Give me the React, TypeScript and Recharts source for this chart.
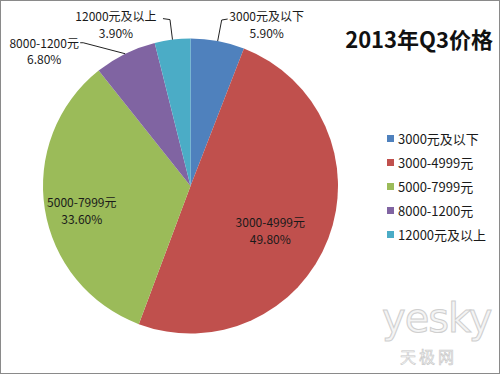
import React from 'react';
import { PieChart, Pie, Cell } from 'recharts';

const categories = ['3000元及以下', '3000-4999元', '5000-7999元', '8000-1200元', '12000元及以上'];
const shares = [5.9, 49.8, 33.6, 6.8, 3.9];
const colors = ['#4F81BD', '#C0504D', '#9BBB59', '#8064A2', '#4BACC6'];
const title = '2013年Q3价格';

const data = categories.map((name, i) => ({ name, value: shares[i] }));

const FONT = "'Microsoft YaHei', 'Noto Sans CJK SC', sans-serif";
const RAD = Math.PI / 180;

// label placement relative to the slice's outer edge point at its mid angle
const labelLayout = [
  { dx: 49, dy: -17, line: [[4, -21], [10, -22]] },
  { dx: -58, dy: -8.5, line: null },
  { dx: 37, dy: 1, line: null },
  { dx: -81, dy: -3, line: [[-42, -11], [-45, -11]] },
  { dx: -56.5, dy: -15.6, line: [[-2.5, -20], [-9.5, -21]] },
];

const renderLabel = (props: any) => {
  const { cx, cy, midAngle, outerRadius, index, name, value } = props;
  const ex = cx + outerRadius * Math.cos(-midAngle * RAD);
  const ey = cy + outerRadius * Math.sin(-midAngle * RAD);
  const lay = labelLayout[index];
  const tx = ex + lay.dx;
  const ty = ey + lay.dy;
  return (
    <g key={`lbl-${index}`}>
      {lay.line && (
        <polyline
          points={`${ex},${ey} ${ex + lay.line[0][0]},${ey + lay.line[0][1]} ${ex + lay.line[1][0]},${ey + lay.line[1][1]}`}
          fill="none"
          stroke="#222"
          strokeWidth={1}
        />
      )}
      <text x={tx} y={ty - 8.2} textAnchor="middle" dominantBaseline="central" fontSize={12} fontFamily={FONT} fill="#1a1a1a">
        {name}
      </text>
      <text x={tx} y={ty + 8.2} textAnchor="middle" dominantBaseline="central" fontSize={12} fontFamily={FONT} fill="#1a1a1a">
        {`${Number(value).toFixed(2)}%`}
      </text>
    </g>
  );
};

export default function App() {
  return (
    <div
      style={{
        position: 'absolute',
        left: 0,
        top: 0,
        width: 500,
        height: 374,
        background: '#fff',
        overflow: 'hidden',
      }}
    >
      <div style={{ position: 'absolute', left: 0, top: 0 }}>
        <PieChart width={500} height={374} margin={{ top: 0, right: 0, bottom: 0, left: 0 }}>
          <Pie
            data={data}
            dataKey="value"
            nameKey="name"
            cx={190.5}
            cy={186}
            outerRadius={147.5}
            startAngle={90}
            endAngle={-270}
            stroke="none"
            label={renderLabel}
            labelLine={false}
            isAnimationActive={false}
          >
            {data.map((d, i) => (
              <Cell key={d.name} fill={colors[i]} />
            ))}
          </Pie>
        </PieChart>
      </div>
      <div
        style={{
          position: 'absolute',
          left: 387,
          top: 126,
          fontFamily: FONT,
          fontSize: 13,
          color: '#1a1a1a',
        }}
      >
        {categories.map((c, i) => (
          <div key={c} style={{ display: 'flex', alignItems: 'center', height: 24.2, whiteSpace: 'nowrap' }}>
            <span style={{ display: 'inline-block', width: 7, height: 7, background: colors[i], marginRight: 4 }} />
            <span>{c}</span>
          </div>
        ))}
      </div>
      <div
        style={{
          position: 'absolute',
          right: 7,
          top: 26,
          fontFamily: FONT,
          fontWeight: 'bold',
          fontSize: 22,
          lineHeight: '24px',
          color: '#111',
          whiteSpace: 'nowrap',
        }}
      >
        {title}
      </div>
      <div
        style={{
          position: 'absolute',
          left: 382,
          top: 296,
          fontFamily: "'DejaVu Sans', sans-serif",
          fontSize: 40,
          lineHeight: '44px',
          color: '#f4f4f4',
          WebkitTextStroke: '1px #cfcfcf',
          letterSpacing: -1,
          whiteSpace: 'nowrap',
        }}
      >
        yesky
      </div>
      <div
        style={{
          position: 'absolute',
          left: 400,
          top: 347,
          fontFamily: FONT,
          fontSize: 16,
          lineHeight: '18px',
          color: '#f4f4f4',
          WebkitTextStroke: '0.6px #c8c8c8',
          letterSpacing: 3,
          whiteSpace: 'nowrap',
        }}
      >
        天极网
      </div>
      <div
        style={{
          position: 'absolute',
          left: 0,
          top: 0,
          width: 500,
          height: 374,
          boxSizing: 'border-box',
          border: '1px solid #8a8a8a',
          pointerEvents: 'none',
        }}
      />
    </div>
  );
}
